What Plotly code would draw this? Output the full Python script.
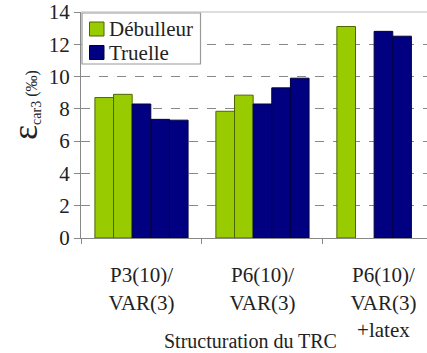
import plotly.graph_objects as go

categories = ["P3(10)/<br>VAR(3)", "P6(10)/<br>VAR(3)", "P6(10)/<br>VAR(3)<br>+latex"]
deb_1 = [8.7, 7.85, 13.1]
deb_2 = [8.9, 8.85, None]
tru_1 = [8.3, 8.3, 12.8]
tru_2 = [7.35, 9.3, 12.5]
tru_3 = [7.3, 9.9, None]
y_ticks = [0, 2, 4, 6, 8, 10, 12, 14]

GREEN = "#99cc00"
NAVY = "#000080"
FONT = "Liberation Serif, Times New Roman, serif"

series = [
    ("Débulleur", deb_1, GREEN, "#4d6600"),
    ("Débulleur", deb_2, GREEN, "#4d6600"),
    ("Truelle", tru_1, NAVY, "#000040"),
    ("Truelle", tru_2, NAVY, "#000040"),
    ("Truelle", tru_3, NAVY, "#000040"),
]

fig = go.Figure()
for name, vals, col, lcol in series:
    fig.add_trace(go.Bar(
        x=categories, y=vals, name=name, showlegend=False,
        marker=dict(color=col, line=dict(color=lcol, width=1)),
    ))

# plot area in pixels: x 81..427, y 12..238
TOP, BOT = 12, 238
PW, PH = 346, BOT - TOP
def px(x):
    return (x - 81) / PW
def py(y):
    return (BOT - y) / PH

legend_shapes = [
    dict(type="rect", xref="paper", yref="paper", x0=px(82), x1=px(200.5), y0=py(64), y1=py(13),
         line=dict(color="#999", width=1.2), fillcolor="white", layer="above"),
    dict(type="rect", xref="paper", yref="paper", x0=px(89.5), x1=px(104), y0=py(36), y1=py(22),
         line=dict(color="#4d6600", width=1), fillcolor=GREEN, layer="above"),
    dict(type="rect", xref="paper", yref="paper", x0=px(89.5), x1=px(104), y0=py(59.5), y1=py(45.5),
         line=dict(color="#000030", width=1), fillcolor=NAVY, layer="above"),
    dict(type="line", xref="paper", yref="paper", x0=0, x1=1, y0=1, y1=1,
         line=dict(color="#bbb", width=1)),
]

fig.update_layout(
    width=427, height=353,
    margin=dict(l=81, r=0, t=TOP, b=353 - BOT),
    paper_bgcolor="white", plot_bgcolor="white",
    barmode="group", bargap=0.23, bargroupgap=0,
    font=dict(family=FONT, size=21, color="#222"),
    xaxis=dict(
        type="category", range=[-0.5, 2.36], automargin=False,
        tickson="boundaries", ticks="outside", ticklen=5, tickcolor="#888",
        showline=True, linecolor="#888", linewidth=1, ticklabelstandoff=18,
        showgrid=False, tickfont=dict(family=FONT, size=21, color="#222"),
    ),
    yaxis=dict(
        range=[0, 14], tickmode="array", tickvals=y_ticks, ticks="outside", ticklen=6,
        tickcolor="#888", ticklabeloverflow="allow",
        showline=True, linecolor="#888", linewidth=1, automargin=False,
        showgrid=True, gridcolor="#888", griddash="dash", gridwidth=1,
        zeroline=False, tickfont=dict(family=FONT, size=21, color="#222"),
    ),
    shapes=legend_shapes,
    annotations=[
        dict(text="Débulleur", xref="paper", yref="paper", x=px(107), y=py(29),
             xanchor="left", yanchor="middle", showarrow=False,
             font=dict(family=FONT, size=21, color="#222")),
        dict(text="Truelle", xref="paper", yref="paper", x=px(107), y=py(53),
             xanchor="left", yanchor="middle", showarrow=False,
             font=dict(family=FONT, size=21, color="#222")),
        dict(text="Structuration du TRC", xref="paper", yref="paper",
             x=px(250), y=py(341), xanchor="center", yanchor="middle",
             showarrow=False, font=dict(family=FONT, size=20, color="#222")),
        dict(text="<span style='font-size:36px'>ε</span><sub>car3</sub><span style='font-size:16px'> (‰)</span>",
             xref="paper", yref="paper", x=px(25), y=py(105),
             xanchor="center", yanchor="middle", textangle=-90, showarrow=False,
             font=dict(family=FONT, size=20, color="#222")),
    ],
)

fig.write_html("out.html", config={"displayModeBar": False},
               post_script="document.body.style.margin='0';document.body.style.overflow='hidden';")
